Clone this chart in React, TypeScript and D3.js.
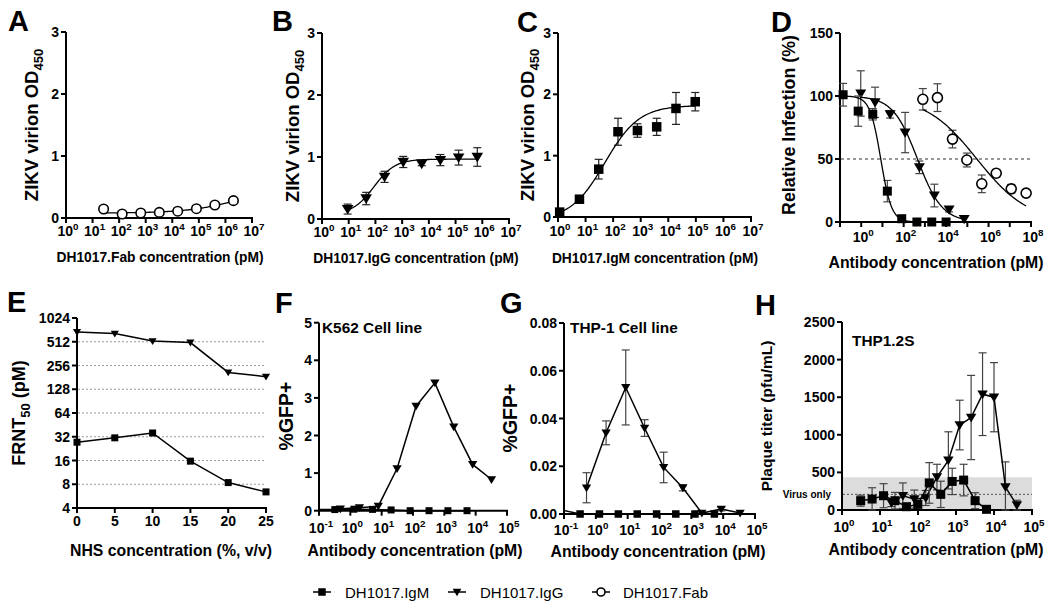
import React from "react";
import * as d3 from "d3";

const FONT = "'Liberation Sans', Arial, Helvetica, sans-serif";

// ---------- Panel A: DH1017.Fab ELISA ----------
const aConc = [26, 130, 650, 3250, 16000, 81000, 400000, 2000000];
const aOD = [0.145, 0.065, 0.08, 0.09, 0.11, 0.15, 0.21, 0.28];
const aFit = [0.08, 0.5, 6.5, 0.45]; // bottom, top, logEC50, hill

// ---------- Panel B: DH1017.IgG ELISA ----------
const bConc = [9.1, 45, 220, 1100, 5400, 27000, 130000, 650000];
const bOD = [0.16, 0.33, 0.68, 0.92, 0.89, 0.95, 0.99, 1.0];
const bErr = [0.08, 0.1, 0.09, 0.09, 0.03, 0.09, 0.12, 0.15];
const bFit = [0.08, 0.965, 1.95, 1.1];

// ---------- Panel C: DH1017.IgM ELISA ----------
const cConc = [1.15, 6, 30, 150, 760, 3800, 19000, 95000];
const cOD = [0.08, 0.29, 0.78, 1.39, 1.41, 1.47, 1.77, 1.88];
const cErr = [0.03, 0.05, 0.16, 0.22, 0.11, 0.14, 0.26, 0.15];
const cFit = [-0.05, 1.82, 1.7, 0.7];

// ---------- Panel D: neutralization ----------
const dIgMConc = [0.14, 0.72, 3.5, 17, 81, 420, 2100, 10000];
const dIgMVal = [101, 88, 85.5, 24.5, 2.6, 0, 0, 0];
const dIgMErr = [9, 12, 4.5, 8.5, 1.5, 0, 0, 0];
const dIgMFit = [0, 100, 0.92, 1.7];
const dIgGConc = [0.95, 4.5, 23, 117, 550, 2800, 13800, 71000];
const dIgGVal = [102, 95, 85.5, 71, 43.4, 21, 10, 2.4];
const dIgGErr = [18, 12, 3, 16, 5, 9, 2, 0];
const dIgGFit = [0, 100, 2.65, 0.75];
const dFabConc = [800, 3900, 20000, 95000, 480000, 2300000, 11700000, 59000000];
const dFabVal = [97.4, 98.7, 65.8, 49.2, 30.3, 38.7, 26.3, 22.9];
const dFabErr = [8.5, 11, 7, 5.5, 7, 3, 3.5, 1.5];
const dFabFit = [0, 100, 5.45, 0.36];

// ---------- Panel E: FRNT50 vs NHS ----------
const eNHS = [0, 5, 10, 15, 20, 25];
const eIgG = [680, 650, 522, 500, 209, 185];
const eIgM = [27.3, 31, 35.7, 15.7, 8.4, 6.4];
const eTicks = [4, 8, 16, 32, 64, 128, 256, 512, 1024];

// ---------- Panel F: K562 ----------
const fIgMConc = [0.08, 0.32, 1.3, 5.1, 20, 81, 325, 1300, 5300];
const fIgMVal = [0.03, 0.03, 0.04, 0.035, 0.02, 0, 0, 0, 0];
const fIgGConc = [0.48, 1.95, 7.8, 31, 125, 500, 2000, 8000, 32000];
const fIgGVal = [0.05, 0.08, 0.12, 1.12, 2.78, 3.4, 2.23, 1.23, 0.83];

// ---------- Panel G: THP-1 ----------
const gIgMConc = [0.08, 0.32, 1.3, 5.1, 20, 81, 325, 1300, 5300];
const gIgMVal = [0.0017, 0, 0, 0, 0, 0, 0, 0, 0];
const gIgGConc = [0.51, 2.1, 8.7, 34, 135, 540, 2140, 8700, 34000];
const gIgGVal = [0.011, 0.034, 0.053, 0.036, 0.0195, 0.011, 0.0004, 0.0021, 0.0004];
const gIgGErr = [0.0063, 0.005, 0.0157, 0.0035, 0.0064, 0.0013, 0, 0.0008, 0];

// ---------- Panel H: THP1.2S plaque titer ----------
const hIgMConc = [3.1, 6.2, 12.4, 24.8, 49.6, 99, 198, 397, 794, 1590, 3180, 6350];
const hIgMVal = [124, 146, 190, 124, 44, 75, 360, 208, 380, 398, 124, 9];
const hIgMErr = [73, 150, 160, 110, 30, 45, 270, 175, 175, 210, 106, 5];
const hIgGConc = [20, 40, 80, 160, 315, 630, 1250, 2500, 5000, 10000, 20000, 40000];
const hIgGVal = [95, 190, 145, 160, 438, 660, 1130, 1230, 1540, 1500, 305, 65];
const hIgGErr = [50, 170, 120, 100, 170, 380, 330, 560, 550, 460, 335, 65];
const hBand = [10, 435];
const hVirusOnly = 208;

const legendItems = ["DH1017.IgM", "DH1017.IgG", "DH1017.Fab"];

type Scale = (v: number) => number;

function logistic(p: number[], lx: number, dir: number) {
  const [b, t, c, h] = p;
  return b + (t - b) / (1 + Math.pow(10, (dir > 0 ? c - lx : lx - c) * h));
}

function fitPath(xs: Scale, ys: Scale, p: number[], dir: number, conc: number[]) {
  const lo = Math.log10(d3.min(conc) as number);
  const hi = Math.log10(d3.max(conc) as number);
  const pts = d3.range(0, 121).map((i) => {
    const lx = lo + ((hi - lo) * i) / 120;
    return [xs(Math.pow(10, lx)), ys(logistic(p, lx, dir))] as [number, number];
  });
  return d3.line()(pts) || "";
}

function Marker({ type, x, y, s }: { type: string; x: number; y: number; s: number }) {
  if (type === "sq")
    return <rect x={x - s / 2} y={y - s / 2} width={s} height={s} fill="#000" />;
  if (type === "tri") {
    const w = s * 0.58;
    return (
      <path
        d={`M${x - w},${y - s * 0.42} L${x + w},${y - s * 0.42} L${x},${y + s * 0.55} Z`}
        fill="#000"
      />
    );
  }
  return <circle cx={x} cy={y} r={s / 2} fill="#fff" stroke="#000" strokeWidth={1.6} />;
}

function Series({
  xs, ys, conc, vals, err, type, s, line, fit, errColor = "#222", clipId,
}: {
  xs: any; ys: Scale; conc: number[]; vals: number[]; err?: number[]; type: string; s: number;
  line?: boolean; fit?: string; errColor?: string; clipId?: string;
}) {
  const pts = conc.map((c, i) => [xs(c), ys(vals[i])] as [number, number]);
  const left = xs.range()[0];
  return (
    <g>
      {err &&
        conc.map((c, i) => {
          if (!err[i]) return null;
          const x = xs(c);
          const y1 = ys(vals[i] + err[i]);
          const y2 = ys(Math.max(vals[i] - err[i], 0));
          return (
            <g key={i} stroke={errColor} strokeWidth={1.2}>
              <line x1={x} x2={x} y1={y1} y2={y2} />
              <line x1={x - 4} x2={x + 4} y1={y1} y2={y1} />
              <line x1={x - 4} x2={x + 4} y1={y2} y2={y2} />
            </g>
          );
        })}
      {line && (
        <path
          d={d3.line()(pts) || ""}
          fill="none"
          stroke="#000"
          strokeWidth={1.5}
          clipPath={clipId ? `url(#${clipId})` : undefined}
        />
      )}
      {fit && <path d={fit} fill="none" stroke="#000" strokeWidth={1.3} />}
      {pts.map((p, i) =>
        p[0] < left - 0.5 ? null : <Marker key={i} type={type} x={p[0]} y={p[1]} s={s} />
      )}
    </g>
  );
}

const TICK_FS = 14;

function YAxis({ scale, x, ticks, fmt, fs = TICK_FS }: { scale: any; x: number; ticks: number[]; fmt: (v: number) => string; fs?: number }) {
  const [r0, r1] = scale.range();
  return (
    <g>
      <line x1={x} x2={x} y1={r0 + 1} y2={r1} stroke="#000" strokeWidth={2} />
      {ticks.map((t) => (
        <g key={t}>
          <line x1={x - 5} x2={x} y1={scale(t)} y2={scale(t)} stroke="#000" strokeWidth={2} />
          <text x={x - 7} y={scale(t)} dy="0.36em" textAnchor="end" fontFamily={FONT} fontWeight="bold" fontSize={fs}>
            {fmt(t)}
          </text>
        </g>
      ))}
    </g>
  );
}

function XLogAxis({ scale, y, exps, labelExps, dl, fs = TICK_FS }: { scale: any; y: number; exps: number[]; labelExps: number[]; dl: number; fs?: number }) {
  const [r0, r1] = scale.range();
  return (
    <g>
      <line x1={r0 - 1} x2={r1 + 1} y1={y} y2={y} stroke="#000" strokeWidth={2} />
      {exps.map((e) => {
        const px = scale(Math.pow(10, e));
        return <line key={e} x1={px} x2={px} y1={y} y2={y + 5} stroke="#000" strokeWidth={2} />;
      })}
      {labelExps.map((e) => (
        <text key={e} x={scale(Math.pow(10, e)) + 2} y={y + dl} textAnchor="middle" fontFamily={FONT} fontWeight="bold" fontSize={fs}>
          10
          <tspan dy={-6} fontSize={fs * 0.7}>{String(e)}</tspan>
        </text>
      ))}
    </g>
  );
}

function Letter({ x, y, t }: { x: number; y: number; t: string }) {
  return (
    <text x={x} y={y} fontFamily={FONT} fontWeight="bold" fontSize={29}>
      {t}
    </text>
  );
}

function YTitle({ cx, cy, fs, children }: { cx: number; cy: number; fs: number; children: any }) {
  return (
    <text transform={`translate(${cx},${cy}) rotate(-90)`} textAnchor="middle" dy="0.36em" fontFamily={FONT} fontWeight="bold" fontSize={fs}>
      {children}
    </text>
  );
}

function XTitle({ cx, y, fs, t }: { cx: number; y: number; fs: number; t: string }) {
  return (
    <text x={cx} y={y} textAnchor="middle" fontFamily={FONT} fontWeight="bold" fontSize={fs}>
      {t}
    </text>
  );
}

export default function App() {
  const e0to7 = d3.range(0, 8);
  const xA = d3.scaleLog().domain([1, 1e7]).range([66, 252]);
  const yA = d3.scaleLinear().domain([0, 3]).range([218, 32]);
  const xB = d3.scaleLog().domain([1, 1e7]).range([322, 509]);
  const yB = d3.scaleLinear().domain([0, 3]).range([219, 33]);
  const xC = d3.scaleLog().domain([1, 1e7]).range([558, 751]);
  const yC = d3.scaleLinear().domain([0, 3]).range([217, 33]);
  const xD = d3.scaleLog().domain([0.1, 1e8]).range([840, 1031]);
  const yD = d3.scaleLinear().domain([0, 150]).range([222, 33]);
  const xE = d3.scaleLinear().domain([0, 25]).range([77, 266]);
  const yE = d3.scaleLog().base(2).domain([4, 1024]).range([508, 318]);
  const xF = d3.scaleLog().domain([0.1, 1e5]).range([319, 507]);
  const yF = d3.scaleLinear().domain([0, 5]).range([510.7, 322.7]);
  const xG = d3.scaleLog().domain([0.1, 1e5]).range([564, 755]);
  const yG = d3.scaleLinear().domain([0, 0.08]).range([514, 323]);
  const xH = d3.scaleLog().domain([1, 1e5]).range([842, 1032]);
  const yH = d3.scaleLinear().domain([0, 2500]).range([510, 322]);

  const eLine = (vals: number[]) => d3.line()(eNHS.map((v, i) => [xE(v), yE(vals[i])] as [number, number])) || "";

  const legendX = [322, 457, 601];
  const legendTypes = ["sq", "tri", "circ"];

  return (
    <svg width={1050} height={609} style={{ position: "absolute", left: 0, top: 0, background: "#fff" }}>
      <defs>
        <clipPath id="clipF">
          <rect x={319} y={300} width={200} height={215} />
        </clipPath>
        <clipPath id="clipG">
          <rect x={564} y={300} width={200} height={218} />
        </clipPath>
      </defs>
      <rect width={1050} height={609} fill="#fff" />

      {/* ===== A ===== */}
      <Letter x={8} y={31} t="A" />
      <YAxis scale={yA} x={66} ticks={[0, 1, 2, 3]} fmt={(v) => String(v)} />
      <XLogAxis scale={xA} y={218} exps={e0to7} labelExps={e0to7} dl={18} />
      <YTitle cx={31} cy={125} fs={18.5}>
        ZIKV virion OD<tspan dy={5} fontSize={13}>450</tspan>
      </YTitle>
      <XTitle cx={160} y={262} fs={13.8} t="DH1017.Fab concentration (pM)" />
      <Series xs={xA} ys={yA} conc={aConc} vals={aOD} type="circ" s={9.5} fit={fitPath(xA, yA, aFit, 1, aConc)} />

      {/* ===== B ===== */}
      <Letter x={272} y={31} t="B" />
      <YAxis scale={yB} x={322} ticks={[0, 1, 2, 3]} fmt={(v) => String(v)} />
      <XLogAxis scale={xB} y={219} exps={e0to7} labelExps={e0to7} dl={18} />
      <YTitle cx={292} cy={126} fs={18.5}>
        ZIKV virion OD<tspan dy={5} fontSize={13}>450</tspan>
      </YTitle>
      <XTitle cx={416} y={263} fs={13.8} t="DH1017.IgG concentration (pM)" />
      <Series xs={xB} ys={yB} conc={bConc} vals={bOD} err={bErr} type="tri" s={10} fit={fitPath(xB, yB, bFit, 1, bConc)} />

      {/* ===== C ===== */}
      <Letter x={517} y={32} t="C" />
      <YAxis scale={yC} x={558} ticks={[0, 1, 2, 3]} fmt={(v) => String(v)} />
      <XLogAxis scale={xC} y={217} exps={e0to7} labelExps={e0to7} dl={19} />
      <YTitle cx={527} cy={125} fs={18.5}>
        ZIKV virion OD<tspan dy={5} fontSize={13}>450</tspan>
      </YTitle>
      <XTitle cx={655} y={263} fs={13.8} t="DH1017.IgM concentration (pM)" />
      <Series xs={xC} ys={yC} conc={cConc} vals={cOD} err={cErr} type="sq" s={9.5} fit={fitPath(xC, yC, cFit, 1, cConc)} />

      {/* ===== D ===== */}
      <Letter x={771} y={32} t="D" />
      <YAxis scale={yD} x={840} ticks={[0, 50, 100, 150]} fmt={(v) => String(v)} />
      <XLogAxis scale={xD} y={222} exps={d3.range(-1, 9)} labelExps={[0, 2, 4, 6, 8]} dl={20} />
      <YTitle cx={789} cy={125} fs={17.8}>Relative Infection (%)</YTitle>
      <XTitle cx={936} y={268} fs={15.8} t="Antibody concentration (pM)" />
      <line x1={841} x2={1031} y1={yD(50)} y2={yD(50)} stroke="#333" strokeWidth={1.2} strokeDasharray="3,3" />
      <Series xs={xD} ys={yD} conc={dFabConc} vals={dFabVal} err={dFabErr} type="circ" s={10} errColor="#444" fit={fitPath(xD, yD, dFabFit, -1, dFabConc)} />
      <Series xs={xD} ys={yD} conc={dIgGConc} vals={dIgGVal} err={dIgGErr} type="tri" s={9.5} errColor="#444" fit={fitPath(xD, yD, dIgGFit, -1, dIgGConc)} />
      <Series xs={xD} ys={yD} conc={dIgMConc} vals={dIgMVal} err={dIgMErr} type="sq" s={9} errColor="#444" fit={fitPath(xD, yD, dIgMFit, -1, dIgMConc)} />

      {/* ===== E ===== */}
      <Letter x={7} y={312} t="E" />
      {eTicks.slice(1, -1).map((t) => (
        <line key={t} x1={78} x2={266} y1={yE(t)} y2={yE(t)} stroke="#999" strokeWidth={1} strokeDasharray="2,2" />
      ))}
      <YAxis scale={yE} x={77} ticks={eTicks} fmt={(v) => String(v)} />
      <g>
        <line x1={76} x2={267} y1={508} y2={508} stroke="#000" strokeWidth={2} />
        {eNHS.map((v) => (
          <g key={v}>
            <line x1={xE(v)} x2={xE(v)} y1={508} y2={513} stroke="#000" strokeWidth={2} />
            <text x={xE(v)} y={526} textAnchor="middle" fontFamily={FONT} fontWeight="bold" fontSize={TICK_FS}>
              {v}
            </text>
          </g>
        ))}
      </g>
      <YTitle cx={19} cy={413} fs={18}>
        FRNT<tspan dy={5} fontSize={13}>50</tspan>
        <tspan dy={-5}> (pM)</tspan>
      </YTitle>
      <XTitle cx={171} y={556} fs={15.8} t="NHS concentration (%, v/v)" />
      <path d={eLine(eIgG)} fill="none" stroke="#000" strokeWidth={1.5} />
      <path d={eLine(eIgM)} fill="none" stroke="#000" strokeWidth={1.5} />
      {eNHS.map((v, i) => (
        <g key={v}>
          <Marker type="tri" x={xE(v)} y={yE(eIgG[i])} s={7} />
          <Marker type="sq" x={xE(v)} y={yE(eIgM[i])} s={7} />
        </g>
      ))}

      {/* ===== F ===== */}
      <Letter x={275} y={313} t="F" />
      <YAxis scale={yF} x={319} ticks={[0, 1, 2, 3, 4, 5]} fmt={(v) => String(v)} />
      <XLogAxis scale={xF} y={510.7} exps={d3.range(-1, 6)} labelExps={d3.range(-1, 6)} dl={22} />
      <YTitle cx={286} cy={416} fs={19.5}>%GFP+</YTitle>
      <XTitle cx={415} y={556} fs={15.8} t="Antibody concentration (pM)" />
      <text x={322} y={333} fontFamily={FONT} fontWeight="bold" fontSize={15.4}>K562 Cell line</text>
      <Series xs={xF} ys={yF} conc={fIgMConc} vals={fIgMVal} type="sq" s={7} line clipId="clipF" />
      <Series xs={xF} ys={yF} conc={fIgGConc} vals={fIgGVal} type="tri" s={8} line clipId="clipF" />

      {/* ===== G ===== */}
      <Letter x={500} y={313} t="G" />
      <YAxis scale={yG} x={564} ticks={[0, 0.02, 0.04, 0.06, 0.08]} fmt={(v) => v.toFixed(2)} />
      <XLogAxis scale={xG} y={514} exps={d3.range(-1, 6)} labelExps={d3.range(-1, 6)} dl={21} />
      <YTitle cx={510} cy={418} fs={19.5}>%GFP+</YTitle>
      <XTitle cx={658} y={557} fs={15.8} t="Antibody concentration (pM)" />
      <text x={570} y={333} fontFamily={FONT} fontWeight="bold" fontSize={15.4}>THP-1 Cell line</text>
      <Series xs={xG} ys={yG} conc={gIgMConc} vals={gIgMVal} type="sq" s={7.5} line clipId="clipG" />
      <Series xs={xG} ys={yG} conc={gIgGConc} vals={gIgGVal} err={gIgGErr} type="tri" s={8} line errColor="#444" />

      {/* ===== H ===== */}
      <Letter x={755} y={315} t="H" />
      <rect x={843} y={yH(hBand[1])} width={1032 - 843} height={yH(hBand[0]) - yH(hBand[1])} fill="#dcdcdc" />
      <line x1={843} x2={1032} y1={yH(hVirusOnly)} y2={yH(hVirusOnly)} stroke="#555" strokeWidth={1} strokeDasharray="2,2" />
      <text x={831} y={yH(hVirusOnly)} dy="0.36em" textAnchor="end" fontFamily={FONT} fontWeight="bold" fontSize={10}>
        Virus only
      </text>
      <YAxis scale={yH} x={842} ticks={[0, 500, 1000, 1500, 2000, 2500]} fmt={(v) => String(v)} />
      <XLogAxis scale={xH} y={510} exps={d3.range(0, 6)} labelExps={d3.range(0, 6)} dl={22} />
      <YTitle cx={766} cy={416} fs={15.5}>Plaque titer (pfu/mL)</YTitle>
      <XTitle cx={936} y={555} fs={15.8} t="Antibody concentration (pM)" />
      <text x={852} y={346} fontFamily={FONT} fontWeight="bold" fontSize={15.4}>THP1.2S</text>
      <Series xs={xH} ys={yH} conc={hIgGConc} vals={hIgGVal} err={hIgGErr} type="tri" s={9} line errColor="#444" />
      <Series xs={xH} ys={yH} conc={hIgMConc} vals={hIgMVal} err={hIgMErr} type="sq" s={9} line errColor="#444" />

      {/* ===== Legend ===== */}
      {legendItems.map((t, i) => (
        <g key={t}>
          <line x1={legendX[i] - 9} x2={legendX[i] + 9} y1={592} y2={592} stroke="#000" strokeWidth={1.5} />
          <Marker type={legendTypes[i]} x={legendX[i]} y={592} s={legendTypes[i] === "circ" ? 8 : 7.5} />
          <text x={legendX[i] + (i === 2 ? 22 : 23)} y={598} fontFamily={FONT} fontSize={15}>
            {t}
          </text>
        </g>
      ))}
    </svg>
  );
}
